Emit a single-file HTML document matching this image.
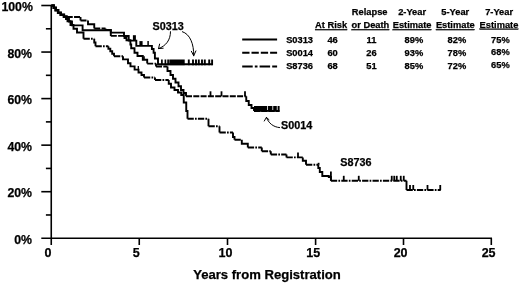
<!DOCTYPE html>
<html><head><meta charset="utf-8"><title>Kaplan-Meier</title>
<style>html,body{margin:0;padding:0;background:#fff}svg{display:block}</style>
</head><body>
<svg width="520" height="284" viewBox="0 0 520 284">
<rect width="520" height="284" fill="#fff"/>
<g stroke="#000" stroke-width="1.6" fill="none">
<path d="M51.25,5.3 V245"/>
<path d="M41.3,238.25 H492"/>
<path d="M45.9,214.97 H51.25"/>
<path d="M41.3,191.70 H51.25"/>
<path d="M45.9,168.43 H51.25"/>
<path d="M41.3,145.15 H51.25"/>
<path d="M45.9,121.88 H51.25"/>
<path d="M41.3,98.60 H51.25"/>
<path d="M45.9,75.32 H51.25"/>
<path d="M41.3,52.05 H51.25"/>
<path d="M45.9,28.77 H51.25"/>
<path d="M41.3,5.50 H51.25"/>
<path d="M139.25,238.25 V245"/>
<path d="M227.5,238.25 V245"/>
<path d="M315.6,238.25 V245"/>
<path d="M403.5,238.25 V245"/>
<path d="M491.3,238.25 V245"/>
</g>
<g fill="none" stroke="#000" stroke-width="1.9" stroke-linejoin="miter">
<path d="M51.3,5.5 H53.7 V7.7 H55.6 V10.2 H58.1 V12.8 H60.7 V14.7 H63.9 V16.6 H66.5 V18.5 H69 V21.5 H72 V25.4 H82.6 V30.2 H110.8 V32.6 H124 V36 H128.7 V40.6 H136.3 V45.9 H151.9 V49 H153.6 V52.8 H154.9 V58.5 H158 V64.2 H212.7"/>
<path d="M51.3,5.3 H54 V7.4 H56 V9.9 H58.5 V12.4 H61 V14.4 H64.2 V16.2 H66.75 V17 M80.5,17 V20.5 M88,20.5 V24.25 H94.25 V28.5 M105.5,28.5 V30 H110.8 V35.9 M124.5,35.9 V38 H126.5 V40.3 H130.4 V44.5 H131.2 V48.3 H134.5 V52.8 H137.5 V56 H142.8 V59.8 H147.2 V63.6 M156,63.6 V66.5 M167.5,66.5 V71 H170.5 V75 H173 V78.75 H175.5 V82.5 H178.5 V86.25 H181 V90 H183.5 V93 H186 V96.3 M246.25,96.3 V101 H248.75 V105 H251.5 V108 H254 V111"/>
<path d="M66.75,17 H80.5 M80.5,20.5 H88 M94.25,28.5 H105.5 M110.8,35.9 H124.5 M147.2,63.6 H156 M156,66.5 H167.5 M186,96.3 H246.25 M254,111 H279.5" stroke-dasharray="6 1.3"/>
<path d="M51.3,5.7 H53.4 V8 H55.3 V10.5 H57.8 V13.1 H60.4 V15 H63.6 V17 H66 V19 H67.5 V21.25 H70.5 V25 H73.5 V28.75 H77 V32.5 H83.5 V38.75 M94.25,38.75 V42.5 H95.5 V46.2 M108.4,46.2 V48.7 H110.3 V51.2 H112.2 V53.7 H114 V56.3 M123,56.3 V59.4 H128 V63.2 H130.5 V66.4 H134.6 V69.6 H138.5 V72.5 H141.5 V75 H144 V77.5 M155,77.5 V80 M168.75,80 V83.75 H171 V87.5 H174.5 V90 H178 V92.5 H181.25 V95 H183.75 V102.5 H186.25 V111 H187.5 V118.75 M208.5,118.75 V126.25 M219.5,126.25 V132.5 M233,132.5 V137 H234.5 V139.8 M241.8,139.8 V143.8 H247.8 V147.5 M261.8,147.5 V151.25 M270.8,151.25 V154.5 M286.5,154.5 V157.4 M302.8,157.4 V160.7 H306 V164.8 M318.3,164.8 V168 H319.8 V172 H322.3 V176 H328.8 V177 H330.9 V180.8 M406.5,180.8 V190"/>
<path d="M83.5,38.75 H94.25 M95.5,46.2 H108.4 M114,56.3 H123 M144,77.5 H155 M155,80 H168.75 M187.5,118.75 H208.5 M208.5,126.25 H219.5 M219.5,132.5 H233 M234.5,139.8 H241.8 M247.8,147.5 H261.8 M261.8,151.25 H270.8 M270.8,154.5 H286.5 M286.5,157.4 H302.8 M306,164.8 H318.3 M330.9,180.8 H406.5 M406.5,190 H440.75" stroke-dasharray="6.3 1.2 1.7 1.2"/>
</g>
<g stroke="#000">
<line x1="134.4" y1="40.6" x2="134.4" y2="35.2" stroke-width="3"/><line x1="141" y1="45.9" x2="141" y2="41.1" stroke-width="3.2"/><line x1="148.1" y1="45.9" x2="148.1" y2="41.1" stroke-width="1.5"/><line x1="138.3" y1="70" x2="138.3" y2="66" stroke-width="1.3"/><line x1="144" y1="59.8" x2="144" y2="56.3" stroke-width="1.6"/>
<line x1="161.9" y1="65.2" x2="161.9" y2="59.5" stroke-width="1.7"/><line x1="165.4" y1="65.2" x2="165.4" y2="59.5" stroke-width="1.7"/><line x1="168.1" y1="65.2" x2="168.1" y2="59.5" stroke-width="1.7"/>
<line x1="188.8" y1="65.2" x2="188.8" y2="59.5" stroke-width="1.9"/><line x1="193" y1="65.2" x2="193" y2="59.5" stroke-width="1.9"/><line x1="196" y1="65.2" x2="196" y2="59.5" stroke-width="1.9"/><line x1="198.8" y1="65.2" x2="198.8" y2="59.5" stroke-width="1.9"/><line x1="202" y1="65.2" x2="202" y2="59.5" stroke-width="1.9"/><line x1="204.8" y1="65.2" x2="204.8" y2="59.5" stroke-width="1.9"/><line x1="209.2" y1="65.2" x2="209.2" y2="59.5" stroke-width="1.9"/><line x1="212.1" y1="65.2" x2="212.1" y2="59.5" stroke-width="1.9"/>
<line x1="210.5" y1="96.3" x2="210.5" y2="91.3" stroke-width="1.8"/><line x1="221.5" y1="96.3" x2="221.5" y2="91.3" stroke-width="1.8"/><line x1="245" y1="96.3" x2="245" y2="91.3" stroke-width="1.8"/>
<line x1="298" y1="157.4" x2="298" y2="152.4" stroke-width="1.8"/>
<line x1="318.6" y1="164.8" x2="318.6" y2="162.8" stroke-width="1.8"/>
<line x1="330.9" y1="180.8" x2="330.9" y2="171.4" stroke-width="1.8"/>
<line x1="343.75" y1="180.8" x2="343.75" y2="175.8" stroke-width="1.8"/><line x1="358.75" y1="180.8" x2="358.75" y2="175.8" stroke-width="1.8"/><line x1="391.75" y1="180.8" x2="391.75" y2="175.8" stroke-width="1.8"/><line x1="394.25" y1="180.8" x2="394.25" y2="175.8" stroke-width="1.8"/><line x1="396.75" y1="180.8" x2="396.75" y2="175.8" stroke-width="1.8"/><line x1="400.75" y1="180.8" x2="400.75" y2="175.8" stroke-width="1.8"/><line x1="403.75" y1="180.8" x2="403.75" y2="175.8" stroke-width="1.8"/>
<line x1="410" y1="190" x2="410" y2="185" stroke-width="1.8"/><line x1="413.25" y1="190" x2="413.25" y2="185" stroke-width="1.8"/><line x1="427.5" y1="190" x2="427.5" y2="185" stroke-width="1.8"/><line x1="440.25" y1="190" x2="440.25" y2="185" stroke-width="1.8"/>
</g>
<rect x="169.3" y="59.5" width="15.4" height="5.7" fill="#000"/>
<rect x="254" y="106" width="25.6" height="5.8" fill="#000"/>
<rect x="267" y="106" width="0.8" height="4" fill="#fff"/><rect x="272.4" y="106" width="0.8" height="4" fill="#fff"/><rect x="276.8" y="106" width="0.8" height="4" fill="#fff"/>
<g stroke="#000" stroke-width="2" fill="none">
<path d="M242.2,39.4 H277.1"/>
<path d="M242.2,52.8 H277.1" stroke-dasharray="7.3 2"/>
<path d="M242.2,66.5 H252.7 M254.8,66.5 H257.5 M259.6,66.5 H270.1 M272.2,66.5 H277.1"/>
</g>
<g stroke="#000" stroke-width="1.0" fill="none" stroke-linecap="round">
<path d="M170.5,31.7 C170.5,40 166,46 158.5,48.6 M159.6,44.1 L158.5,48.6 L163.2,48.2"/>
<path d="M182.4,31.7 C190,34 194,44 193.7,55.8 M191.4,51.3 L193.7,55.8 L195.9,50.9"/>
<path d="M279.6,127.6 C273,127 268.5,123 266.4,117.4 M264.3,121 L266.4,117.4 L269,119.7"/>
</g>
<g font-family="'Liberation Sans', sans-serif" font-weight="bold" fill="#000" stroke="#000" stroke-width="0.25">
<g font-size="12.3" text-anchor="end">
<text x="32.0" y="243.95">0%</text>
<text x="32.0" y="197.40">20%</text>
<text x="32.0" y="150.85">40%</text>
<text x="32.0" y="104.30">60%</text>
<text x="32.0" y="57.75">80%</text>
<text x="32.9" y="10.60">100%</text>
</g>
<g font-size="12.5" text-anchor="middle">
<text x="48.1" y="257">0</text>
<text x="136.3" y="257">5</text>
<text x="225.5" y="257">10</text>
<text x="313.3" y="257">15</text>
<text x="400.6" y="257">20</text>
<text x="488.6" y="257">25</text>
</g>
<text x="267" y="278.9" font-size="13.1" text-anchor="middle">Years from Registration</text>
<g font-size="10.8">
<text x="152.5" y="30.1">S0313</text>
<text x="281" y="128.8">S0014</text>
<text x="340.3" y="165.5">S8736</text>
</g>
<g font-size="9.3" text-anchor="middle">
<text x="369.7" y="15">Relapse</text>
<text x="412.1" y="15">2-Year</text>
<text x="455.3" y="15">5-Year</text>
<text x="499.1" y="14.5">7-Year</text>
<text x="331.1" y="28.2" text-decoration="underline">At Risk</text>
<text x="370.4" y="28.2" text-decoration="underline">or Death</text>
<text x="412.1" y="28.2" text-decoration="underline">Estimate</text>
<text x="455.3" y="28.2" text-decoration="underline">Estimate</text>
<text x="499" y="27.7" text-decoration="underline">Estimate</text>
<text x="299.6" y="43.2">S0313</text>
<text x="332.6" y="43.2">46</text>
<text x="371.4" y="43.2">11</text>
<text x="413.9" y="43.2">89%</text>
<text x="456.9" y="43.2">82%</text>
<text x="500.4" y="42.7">75%</text>
<text x="299.6" y="55.9">S0014</text>
<text x="332.6" y="55.9">60</text>
<text x="371.4" y="55.9">26</text>
<text x="413.9" y="55.9">93%</text>
<text x="456.9" y="55.9">78%</text>
<text x="500.4" y="55.4">68%</text>
<text x="299.6" y="68.9">S8736</text>
<text x="332.6" y="68.9">68</text>
<text x="371.4" y="68.9">51</text>
<text x="413.9" y="68.9">85%</text>
<text x="456.9" y="68.9">72%</text>
<text x="500.4" y="68.4">65%</text>
</g>
</g>
</svg>
</body></html>
